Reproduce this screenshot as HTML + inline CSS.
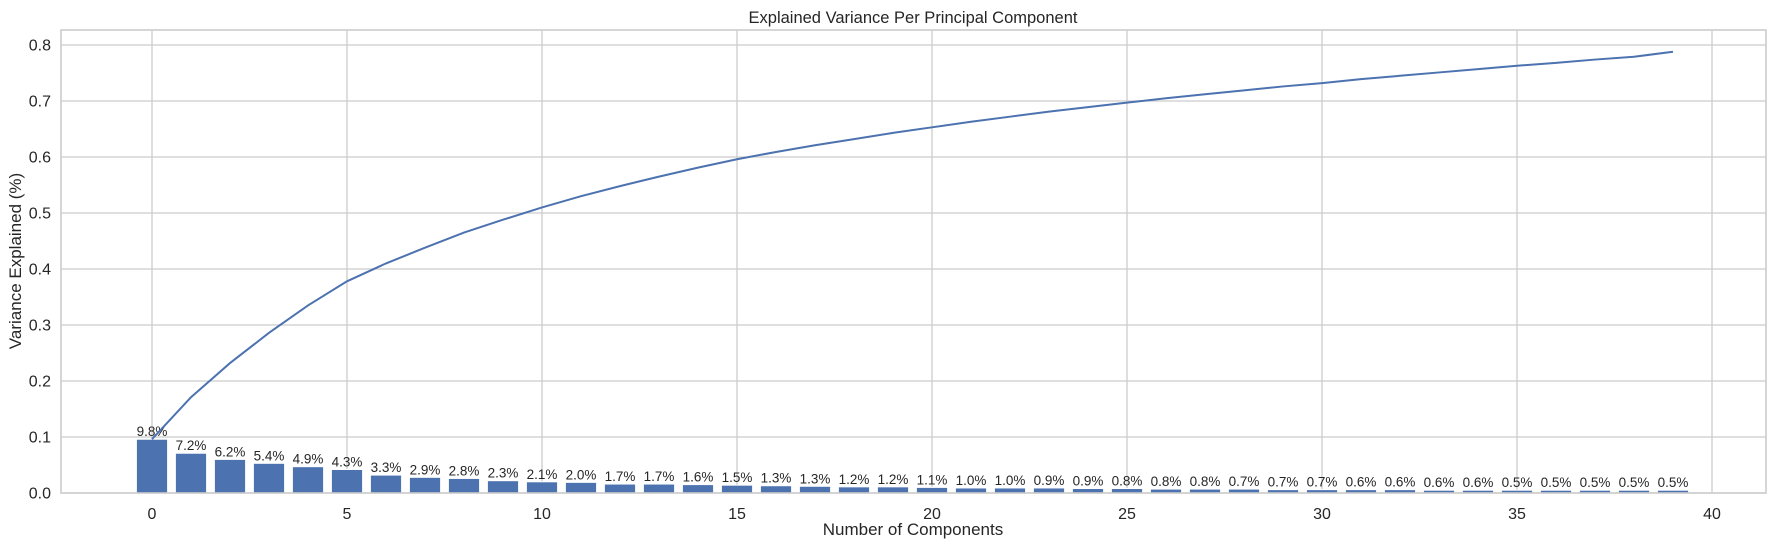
<!DOCTYPE html>
<html><head><meta charset="utf-8"><style>
body{margin:0;background:#fff;}
svg{display:block;font-family:"Liberation Sans",Arial,sans-serif;}
</style></head><body>
<svg id="chart" width="1775" height="550" viewBox="0 0 1775 550">
<rect x="0" y="0" width="1775" height="550" fill="#fff"/>
<g id="grid"></g>
<g id="bars"></g>
<g id="labels"></g>
<g id="line"></g>
<rect x="61" y="30" width="1705" height="463" fill="none" stroke="#cccccc" stroke-width="1.6"/>
<g id="ticks"></g>
<text x="913" y="23" text-anchor="middle" font-size="16.5" fill="#262626">Explained Variance Per Principal Component</text>
<text x="913" y="535" text-anchor="middle" font-size="17" fill="#262626">Number of Components</text>
<text transform="translate(21,261) rotate(-90)" text-anchor="middle" font-size="17" fill="#262626">Variance Explained (%)</text>
</svg>
<script>
const pctLabels = [9.8,7.2,6.2,5.4,4.9,4.3,3.3,2.9,2.8,2.3,2.1,2.0,1.7,1.7,1.6,1.5,1.3,1.3,1.2,1.2,1.1,1.0,1.0,0.9,0.9,0.8,0.8,0.8,0.7,0.7,0.7,0.6,0.6,0.6,0.6,0.5,0.5,0.5,0.5,0.5];
const barValues = [0.096,0.071,0.060,0.053,0.047,0.042,0.032,0.028,0.026,0.022,0.020,0.019,0.016,0.016,0.015,0.014,0.013,0.012,0.011,0.011,0.010,0.009,0.009,0.009,0.008,0.008,0.007,0.007,0.007,0.006,0.006,0.006,0.006,0.005,0.005,0.005,0.005,0.005,0.005,0.005];
const cumValues = [0.096,0.171,0.232,0.286,0.335,0.378,0.410,0.438,0.465,0.488,0.510,0.530,0.548,0.565,0.581,0.596,0.609,0.621,0.632,0.643,0.653,0.663,0.672,0.681,0.689,0.697,0.705,0.712,0.719,0.726,0.732,0.739,0.745,0.751,0.757,0.763,0.768,0.774,0.779,0.788];
const xTicks = [0,5,10,15,20,25,30,35,40];
const yTicks = [0.0,0.1,0.2,0.3,0.4,0.5,0.6,0.7,0.8];
const NS = "http://www.w3.org/2000/svg";
function X(i){return 152 + i*39;}
function Y(v){return 493 - v*560;}
function mk(tag, attrs, parent){const e=document.createElementNS(NS,tag);for(const k in attrs)e.setAttribute(k,attrs[k]);parent.appendChild(e);return e;}
const grid=document.getElementById('grid'), ticks=document.getElementById('ticks');
xTicks.forEach(t=>{
  const l=mk('line',{x1:X(t),x2:X(t),y1:30,y2:493,stroke:'#cccccc','stroke-width':1.3},grid);
  
  
  const tx=mk('text',{x:X(t),y:519,'text-anchor':'middle','font-size':16,fill:'#262626'},ticks);
  tx.textContent=t;
  
  
});
yTicks.forEach(t=>{
  const l=mk('line',{x1:61,x2:1766,y1:Y(t),y2:Y(t),stroke:'#cccccc','stroke-width':1.3},grid);
  
  
  const tx=mk('text',{x:51,y:Y(t)+5.5,'text-anchor':'end','font-size':16,fill:'#262626'},ticks);
  tx.textContent=t.toFixed(1);
  
  
});
const bars=document.getElementById('bars'), labels=document.getElementById('labels');
barValues.forEach((v,i)=>{
  const w=31.2;
  const r=mk('rect',{x:X(i)-w/2,y:Y(v),width:w,height:493-Y(v),fill:'#4c72b0',stroke:'#fff','stroke-width':1},bars);
  
  
  const tx=mk('text',{x:X(i),y:Y(v)-3,'text-anchor':'middle','font-size':13.5,fill:'#262626'},labels);
  tx.textContent=pctLabels[i].toFixed(1)+'%';
  
  
});
const pts=cumValues.map((v,i)=>X(i)+','+Y(v)).join(' ');
const pl=mk('polyline',{points:pts,fill:'none',stroke:'#4c72b0','stroke-width':2},document.getElementById('line'));


</script>
</body></html>
